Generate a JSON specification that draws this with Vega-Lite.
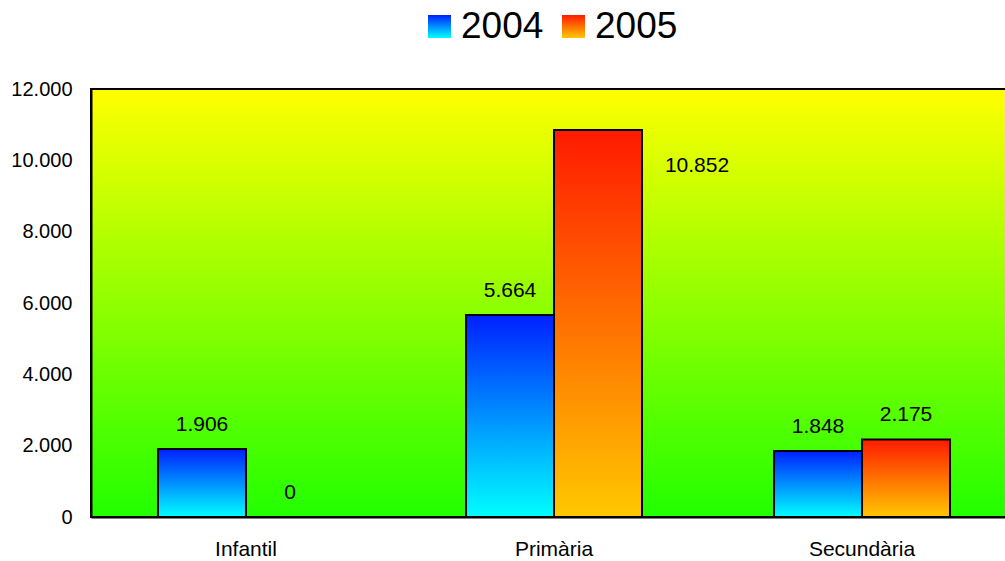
{
  "$schema": "https://vega.github.io/schema/vega-lite/v6.json",
  "width": 926,
  "height": 428,
  "autosize": {"type": "none"},
  "padding": {"left": 91, "top": 89, "right": 0, "bottom": 44},
  "background": "white",
  "config": {
    "locale": {"number": {"decimal": ",", "thousands": ".", "grouping": [3], "currency": ["", " €"]}},
    "font": "Liberation Sans",
    "view": {
      "fill": {"gradient": "linear", "x1": 0, "y1": 0, "x2": 0, "y2": 1, "stops": [{"offset": 0, "color": "#ffff00"}, {"offset": 1, "color": "#22ff00"}]},
      "stroke": "black",
      "strokeWidth": 2
    },
    "legend": {"title": null, "orient": "none", "direction": "horizontal",
      "symbolType": "square", "symbolSize": 529,
      "labelFontSize": 37, "labelFont": "Liberation Sans", "labelColor": "black", "labelOffset": 3}
  },
  "data": {"values": [
    {"category": "Infantil", "year": "2004", "value": 1906},
    {"category": "Infantil", "year": "2005", "value": 0},
    {"category": "Primària", "year": "2004", "value": 5664},
    {"category": "Primària", "year": "2005", "value": 10852},
    {"category": "Secundària", "year": "2004", "value": 1848},
    {"category": "Secundària", "year": "2005", "value": 2175}
  ]},
  "encoding": {
    "x": {"field": "category", "type": "nominal", "sort": null,
      "scale": {"paddingInner": 0.4286, "paddingOuter": 0.2175},
      "axis": {"title": null, "labelAngle": 0, "ticks": false, "domainColor": "black", "domainWidth": 2, "labelFontSize": 21, "labelColor": "black", "labelPadding": 21, "labelFont": "Liberation Sans"}},
    "xOffset": {"field": "year", "type": "nominal", "scale": {"domain": ["2004", "2005"]}},
    "y": {"field": "value", "type": "quantitative",
      "scale": {"domain": [0, 12000], "nice": false},
      "axis": {"title": null, "values": [0, 2000, 4000, 6000, 8000, 10000, 12000], "format": ",.0f", "grid": false, "ticks": false, "domainColor": "black", "domainWidth": 2, "labelFontSize": 20, "labelColor": "black", "labelPadding": 19, "labelFont": "Liberation Sans"}}
  },
  "layer": [
    {
      "transform": [{"filter": "datum.year === '2004'"}],
      "mark": {"type": "bar", "stroke": "black", "strokeWidth": 2,
        "fill": {"gradient": "linear", "x1": 0, "y1": 0, "x2": 0, "y2": 1, "stops": [{"offset": 0, "color": "#0020ff"}, {"offset": 1, "color": "#00ffff"}]}}
    },
    {
      "transform": [{"filter": "datum.year === '2005'"}],
      "mark": {"type": "bar", "stroke": "black", "strokeWidth": 2,
        "fill": {"gradient": "linear", "x1": 0, "y1": 0, "x2": 0, "y2": 1, "stops": [{"offset": 0, "color": "#ff1a00"}, {"offset": 1, "color": "#ffc800"}]}}
    },
    {
      "transform": [{"filter": "datum.year === '2004'"}],
      "mark": {"type": "point", "filled": true, "opacity": 0, "strokeOpacity": 1, "fillOpacity": 1, "stroke": "black", "strokeWidth": 2,
        "fill": {"gradient": "linear", "x1": 0, "y1": 0, "x2": 0, "y2": 1, "stops": [{"offset": 0, "color": "#0020ff"}, {"offset": 1, "color": "#00ffff"}]}},
      "encoding": {
        "shape": {"field": "year", "type": "nominal", "scale": {"range": ["square"]},
          "legend": {"legendX": 330, "legendY": -81, "symbolStrokeColor": "black", "symbolStrokeWidth": 2, "symbolOpacity": 1}}
      }
    },
    {
      "transform": [{"filter": "datum.year === '2005'"}],
      "mark": {"type": "point", "filled": true, "size": 0, "stroke": "black",
        "fill": {"gradient": "linear", "x1": 0, "y1": 0, "x2": 0, "y2": 1, "stops": [{"offset": 0, "color": "#ff1a00"}, {"offset": 1, "color": "#ffc800"}]}},
      "encoding": {
        "strokeDash": {"field": "year", "type": "nominal", "scale": {"range": [[1, 0]]},
          "legend": {"legendX": 464, "legendY": -81, "symbolStrokeColor": "black", "symbolStrokeWidth": 2, "symbolOpacity": 1}}
      }
    },
    {
      "transform": [{"filter": "!(datum.category === 'Primària' && datum.year === '2005')"}],
      "mark": {"type": "text", "fontSize": 21, "color": "black", "baseline": "middle", "dy": -24, "font": "Liberation Sans"},
      "encoding": {"text": {"field": "value", "type": "quantitative", "format": ",.0f"}}
    },
    {
      "transform": [{"filter": "datum.category === 'Primària' && datum.year === '2005'"}],
      "mark": {"type": "text", "fontSize": 21, "color": "black", "baseline": "middle", "dx": 99, "dy": 36, "font": "Liberation Sans"},
      "encoding": {"text": {"field": "value", "type": "quantitative", "format": ",.0f"}}
    }
  ]
}
